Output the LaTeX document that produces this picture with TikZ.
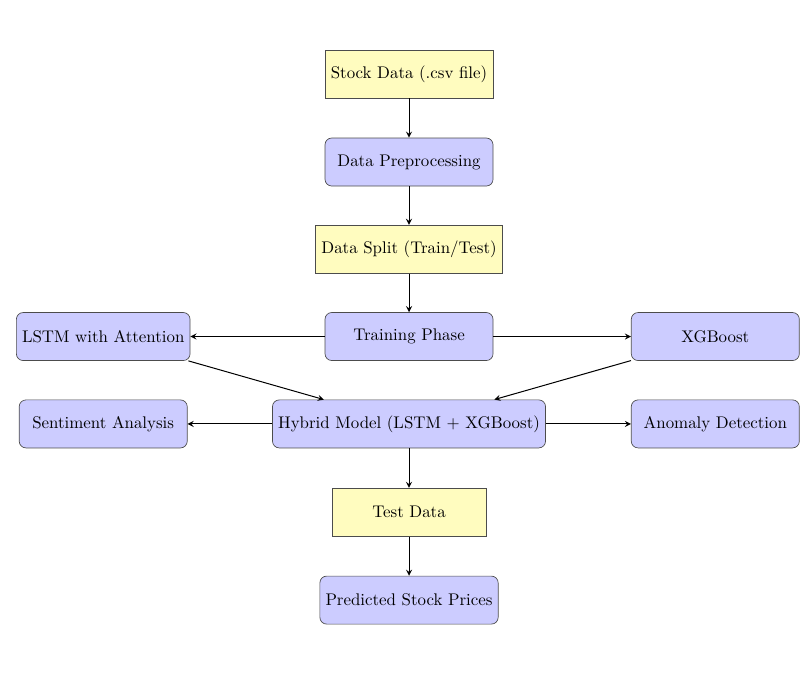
\documentclass[tikz,border=0pt]{standalone}
\usepackage{xcolor}
\usepackage{tikz}
\usetikzlibrary{shapes.geometric, arrows.meta, positioning}
\tikzstyle{datafile} = [rectangle, minimum width=3.2cm, minimum height=1cm, text centered, draw=black!70, fill=yellow!25]
\tikzstyle{process} = [rectangle, rounded corners, minimum width=3.5cm, minimum height=1cm, text centered, draw=black!70, fill=blue!20]
\tikzstyle{arrow} = [thick,->,>=stealth, line width=0.6pt]

\begin{document}
\begin{tikzpicture}
    \useasboundingbox (0, 0) rectangle (16.81, -14);

    % Main flow
    \node[datafile] (stock) at (8.52, -1.54) {Stock Data (.csv file)};
    \node[process] (prep) at (8.52, -3.375) {Data Preprocessing};
    \node[datafile] (split) at (8.52, -5.19) {Data Split (Train/Test)};
    \node[process] (train) at (8.52, -7.01) {Training Phase};
    \node[process] (lstm) at (2.15, -7.01) {LSTM with Attention};
    \node[process] (xgb) at (14.9, -7.01) {XGBoost};
    \node[process] (hybrid) at (8.52, -8.83) {Hybrid Model (LSTM + XGBoost)};
    \node[process] (senti) at (2.15, -8.83) {Sentiment Analysis};
    \node[process] (anomaly) at (14.9, -8.83) {Anomaly Detection};
    \node[datafile] (test) at (8.52, -10.67) {Test Data};
    \node[process] (pred) at (8.52, -12.5) {Predicted Stock Prices};

    % Arrows
    \draw[arrow] (stock) -- (prep);
    \draw[arrow] (prep) -- (split);
    \draw[arrow] (split) -- (train);
    \draw[arrow] (train) -- (lstm);
    \draw[arrow] (train) -- (xgb);
    \draw[arrow] (lstm) -- (hybrid);
    \draw[arrow] (xgb) -- (hybrid);
    \draw[arrow] (hybrid) -- (senti);
    \draw[arrow] (hybrid) -- (anomaly);
    \draw[arrow] (hybrid) -- (test);
    \draw[arrow] (test) -- (pred);
\end{tikzpicture}
\end{document}
